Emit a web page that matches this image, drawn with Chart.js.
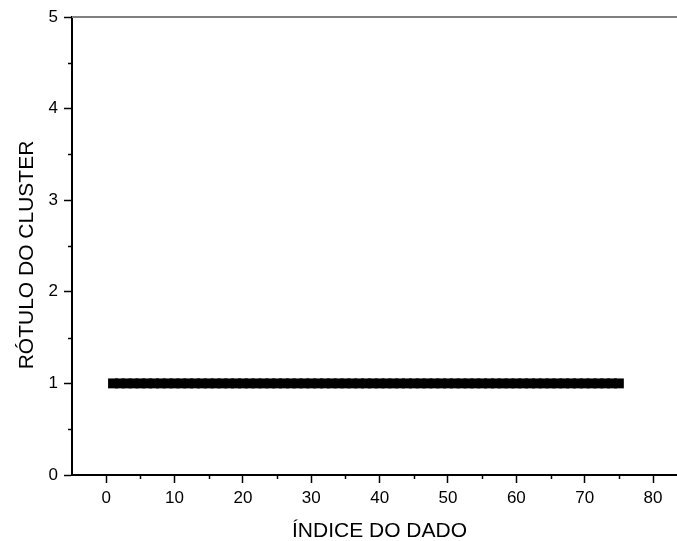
<!DOCTYPE html>
<html>
<head>
<meta charset="utf-8">
<script src="https://cdn.jsdelivr.net/npm/chart.js@4.4.1/dist/chart.umd.min.js"></script>
<style>
  html, body { margin: 0; padding: 0; background: #fff; }
  canvas { display: block; }
</style>
</head>
<body>
<canvas id="clusterChart" width="677" height="541"></canvas>
<script>
// indice do dado
const dataIndex = [
  1, 2, 3, 4, 5, 6, 7, 8, 9, 10, 11, 12, 13, 14, 15, 16, 17, 18, 19, 20,
  21, 22, 23, 24, 25, 26, 27, 28, 29, 30, 31, 32, 33, 34, 35, 36, 37, 38, 39, 40,
  41, 42, 43, 44, 45, 46, 47, 48, 49, 50, 51, 52, 53, 54, 55, 56, 57, 58, 59, 60,
  61, 62, 63, 64, 65, 66, 67, 68, 69, 70, 71, 72, 73, 74, 75
];
// rotulo do cluster
const clusterLabel = [
  1, 1, 1, 1, 1, 1, 1, 1, 1, 1, 1, 1, 1, 1, 1, 1, 1, 1, 1, 1,
  1, 1, 1, 1, 1, 1, 1, 1, 1, 1, 1, 1, 1, 1, 1, 1, 1, 1, 1, 1,
  1, 1, 1, 1, 1, 1, 1, 1, 1, 1, 1, 1, 1, 1, 1, 1, 1, 1, 1, 1,
  1, 1, 1, 1, 1, 1, 1, 1, 1, 1, 1, 1, 1, 1, 1
];
const xTicks = [0, 10, 20, 30, 40, 50, 60, 70, 80];
const xMinorTicks = [5, 15, 25, 35, 45, 55, 65, 75];
const yTicks = [0, 1, 2, 3, 4, 5];
const yMinorTicks = [0.5, 1.5, 2.5, 3.5, 4.5];
const xTitle = 'ÍNDICE DO DADO';
const yTitle = 'RÓTULO DO CLUSTER';

const points = dataIndex.map((x, i) => ({ x: x, y: clusterLabel[i] }));
const FONT = 'Liberation Sans, Arial, sans-serif';

// minor ticks, top frame line and axis titles
const framePlugin = {
  id: 'frame',
  afterDraw(chart) {
    const ctx = chart.ctx;
    const xs = chart.scales.x, ys = chart.scales.y;
    const area = chart.chartArea;
    ctx.save();
    ctx.strokeStyle = '#000';
    ctx.lineWidth = 1.5;
    xMinorTicks.forEach(v => {
      const px = Math.round(xs.getPixelForValue(v)) + 0.5;
      ctx.beginPath();
      ctx.moveTo(px, area.bottom);
      ctx.lineTo(px, area.bottom + 4);
      ctx.stroke();
    });
    yMinorTicks.forEach(v => {
      const py = Math.round(ys.getPixelForValue(v)) + 0.5;
      ctx.beginPath();
      ctx.moveTo(area.left, py);
      ctx.lineTo(area.left - 4, py);
      ctx.stroke();
    });
    ctx.strokeStyle = '#808080';
    ctx.lineWidth = 2;
    ctx.beginPath();
    ctx.moveTo(area.left, area.top);
    ctx.lineTo(area.right, area.top);
    ctx.stroke();

    ctx.fillStyle = '#000';
    ctx.font = '21px ' + FONT;
    ctx.textAlign = 'center';
    ctx.textBaseline = 'alphabetic';
    ctx.fillText(xTitle, (area.left + area.right) / 2 + 5, 537);
    ctx.translate(33, (area.top + area.bottom) / 2 + 9);
    ctx.rotate(-Math.PI / 2);
    ctx.fillText(yTitle, 0, 0);
    ctx.restore();
  }
};

new Chart(document.getElementById('clusterChart'), {
  type: 'scatter',
  data: {
    datasets: [{
      data: points,
      pointStyle: 'rect',
      pointRadius: 7,
      pointBorderWidth: 0,
      backgroundColor: '#000',
      borderColor: '#000'
    }]
  },
  options: {
    responsive: false,
    animation: false,
    devicePixelRatio: 1,
    layout: { autoPadding: false, padding: { top: 17, right: 0, left: 0, bottom: 0 } },
    plugins: { legend: { display: false }, tooltip: { enabled: false } },
    scales: {
      x: {
        type: 'linear',
        min: -5,
        max: 83.5,
        afterBuildTicks: s => { s.ticks = xTicks.map(v => ({ value: v })); },
        afterFit: s => { s.height = 66; s.paddingLeft = 0; s.paddingRight = 0; },
        grid: { drawOnChartArea: false, drawTicks: true, tickLength: 8, tickColor: '#000', tickWidth: 1.5 },
        border: { display: true, color: '#000', width: 2 },
        ticks: { color: '#000', padding: 5, font: { family: FONT, size: 17 }, maxRotation: 0 }
      },
      y: {
        type: 'linear',
        min: 0,
        max: 5,
        afterBuildTicks: s => { s.ticks = yTicks.map(v => ({ value: v })); },
        afterFit: s => { s.width = 72; s.paddingTop = 0; s.paddingBottom = 0; },
        grid: { drawOnChartArea: false, drawTicks: true, tickLength: 8, tickColor: '#000', tickWidth: 1.5 },
        border: { display: true, color: '#000', width: 2 },
        ticks: { color: '#000', padding: 6, font: { family: FONT, size: 17 } }
      }
    }
  },
  plugins: [framePlugin]
});
</script>
</body>
</html>
